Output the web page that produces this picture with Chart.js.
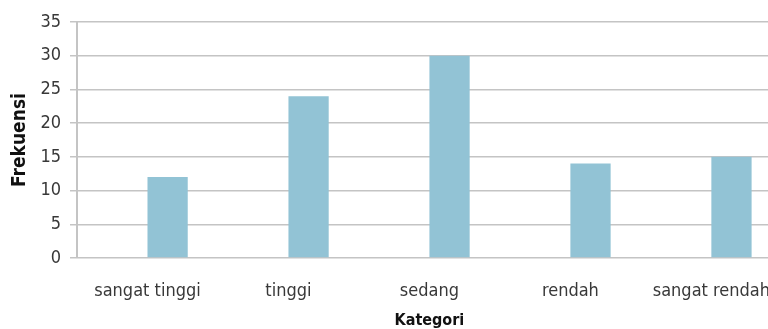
<!DOCTYPE html>
<html>
<head>
<meta charset="utf-8">
<script src="https://cdn.jsdelivr.net/npm/chart.js@4"></script>
<style>
  html, body { margin: 0; padding: 0; background: #fff; overflow: hidden; }
  #wrap { width: 785px; height: 329px; }
</style>
</head>
<body>
<div id="wrap"><canvas id="myChart" width="785" height="329"></canvas></div>
<script>
const categories = ["sangat tinggi", "tinggi", "sedang", "rendah", "sangat rendah"];
const frekuensi = [12, 24, 30, 14, 15];
// the source chart keeps an empty first series, which shifts the bars right
const seriesKosong = [null, null, null, null, null];
const yTicks = [0, 5, 10, 15, 20, 25, 30, 35];

const gridColor = "#c4c4c4";
const textColor = "#383838";
const fontFamily = "'DejaVu Sans Condensed', 'Liberation Sans Narrow', sans-serif";

const ctx = document.getElementById("myChart").getContext("2d");

const config = {
  type: "bar",
  data: {
    labels: categories,
    datasets: [
      {
        label: "",
        data: seriesKosong,
        backgroundColor: "#4f81bd",
      },
      {
        label: "Frekuensi",
        data: frekuensi,
        backgroundColor: "#92c3d5",
      },
    ],
  },
  options: {
    responsive: false,
    animation: false,
    layout: { padding: { top: 22, right: 0, left: 0, bottom: 0 } },
    datasets: {
      bar: { categoryPercentage: 0.571, barPercentage: 1.0 },
    },
    plugins: {
      legend: { display: false },
      tooltip: { enabled: false },
    },
    scales: {
      x: {
        grid: { display: false },
        border: { display: false },
        afterFit: (scale) => {
          scale.height = 71;
        },
        ticks: {
          autoSkip: false,
          maxRotation: 0,
          padding: 15,
          color: textColor,
          font: { family: fontFamily, size: 18 },
        },
        title: {
          display: true,
          text: "Kategori",
          color: "#111",
          font: { family: fontFamily, size: 16, weight: "bold", lineHeight: 1 },
          padding: { top: 0, bottom: 0 },
        },
      },
      y: {
        min: 0,
        max: 35,
        afterBuildTicks: (scale) => {
          scale.ticks = yTicks.map((v) => ({ value: v }));
        },
        afterFit: (scale) => {
          scale.width = 77;
        },
        grid: { color: gridColor, lineWidth: 1.5, tickLength: 7 },
        border: { color: gridColor, width: 2 },
        ticks: {
          padding: 9,
          color: textColor,
          font: { family: fontFamily, size: 18 },
        },
        title: {
          display: true,
          text: "Frekuensi",
          color: "#111",
          font: { family: fontFamily, size: 19, weight: "bold", lineHeight: 1 },
          padding: { top: 11, bottom: 0 },
        },
      },
    },
  },
};

const myChart = new Chart(ctx, config);
</script>
</body>
</html>
